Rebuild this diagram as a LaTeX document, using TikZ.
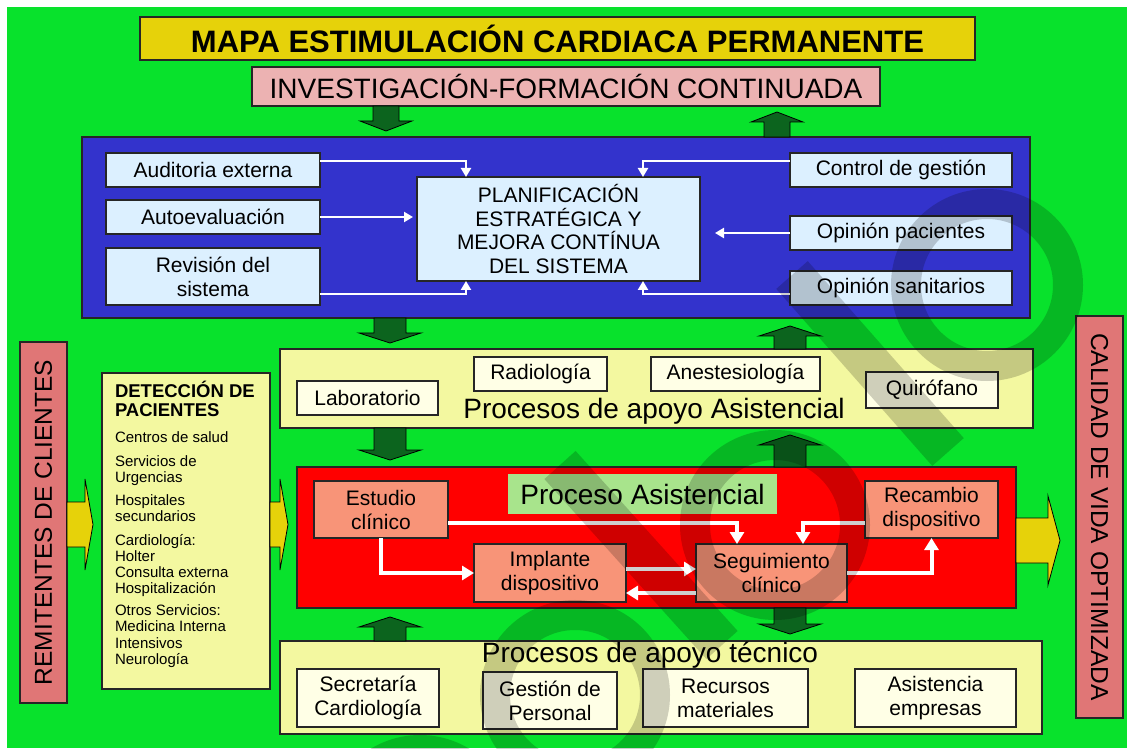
\documentclass[tikz,border=0pt]{standalone}
\usepackage{fontspec}
\setmainfont{Liberation Sans}
\usetikzlibrary{arrows.meta,positioning,calc}

\definecolor{bggreen}{RGB}{8,226,44}
\definecolor{titleyellow}{RGB}{230,210,10}
\definecolor{investpink}{RGB}{236,178,178}
\definecolor{sysblue}{RGB}{51,51,204}
\definecolor{paleblue}{RGB}{220,240,255}
\definecolor{arrowgreen}{RGB}{12,100,30}
\definecolor{paleyellow}{RGB}{243,248,160}
\definecolor{cream}{RGB}{255,255,230}
\definecolor{salmon}{RGB}{248,148,120}
\definecolor{labelgreen}{RGB}{168,228,140}
\definecolor{sidepink}{RGB}{224,118,118}

\newcommand{\boxfont}{\fontsize{21}{24}\selectfont}
\newcommand{\lblfont}{\fontsize{28}{30}\selectfont}

\tikzset{
  garrow/.style={fill=arrowgreen,draw=black,line width=0.8pt},
  yarrow/.style={fill=titleyellow,draw=black,line width=0.8pt},
  pics/gdown/.style args={#1/#2/#3}{code={
    \draw[garrow] (-#2,0) -- (-#2,#1-10) -- (-#3,#1-10) -- (0,#1) -- (#3,#1-10) -- (#2,#1-10) -- (#2,0) -- cycle;}},
  pics/gup/.style args={#1/#2/#3}{code={
    \draw[garrow] (-#2,0) -- (-#2,10-#1) -- (-#3,10-#1) -- (0,-#1) -- (#3,10-#1) -- (#2,10-#1) -- (#2,0) -- cycle;}},
  pics/yarr/.style args={#1/#2/#3/#4}{code={
    \draw[yarrow] (0,-#2) -- (#1-#4,-#2) -- (#1-#4,-#3) -- (#1,0) -- (#1-#4,#3) -- (#1-#4,#2) -- (0,#2) -- cycle;}}
}

\begin{document}
\begin{tikzpicture}[x=1pt,y=-1pt,
  every node/.style={inner sep=0pt,outer sep=0pt},
  box/.style={draw=black!85,line width=1.1pt,align=center},
  sysitem/.style={box,fill=paleblue,font=\boxfont},
  supitem/.style={box,fill=cream,font=\boxfont},
  careitem/.style={box,fill=salmon,font=\boxfont},
  sidebar/.style={box,fill=sidepink,font=\fontsize{24.5}{26}\selectfont},
  detitem/.style={anchor=base west,font=\fontsize{15}{16}\selectfont},
  warrow/.style={draw=white,line width=2.6pt,-{Triangle[length=9pt,width=10pt]}},
  rarrow/.style={draw=white,line width=4pt,-{Triangle[length=12pt,width=14pt]}},
  wmark/.style={draw=black,line width=30pt}]

\useasboundingbox (0,0) rectangle (1133,751);
\fill[white] (0,0) rectangle (1133,751);
\fill[bggreen] (7,7) rectangle (1127,748);

% title and research band
\node[box,fill=titleyellow,minimum width=835pt,minimum height=43pt,font=\fontsize{31}{34}\selectfont\bfseries] (title) at (557.5,38.5) {MAPA ESTIMULACIÓN CARDIACA PERMANENTE};
\node[box,fill=investpink,minimum width=628pt,minimum height=39pt,font=\fontsize{28}{30}\selectfont] (invest) at (566,86.5) {INVESTIGACIÓN-FORMACIÓN CONTINUADA};

% planning system (blue)
\node[box,fill=sysblue,minimum width=948pt,minimum height=181pt] (sistema) at (556,227.5) {};
\node[sysitem,minimum width=214pt,minimum height=34pt] (audit) at (213,170) {Auditoria externa};
\node[sysitem,minimum width=214pt,minimum height=34pt] (autoev) at (213,217) {Autoevaluación};
\node[sysitem,minimum width=214pt,minimum height=57pt] (revision) at (213,276.5) {Revisión del\\sistema};
\node[sysitem,minimum width=283pt,minimum height=104pt,font=\fontsize{21}{23.5}\selectfont] (plan) at (558.5,229) {PLANIFICACIÓN\\ESTRATÉGICA Y\\MEJORA CONTÍNUA\\DEL SISTEMA};
\node[sysitem,minimum width=222pt,minimum height=34pt] (control) at (901,170) {Control de gestión};
\node[sysitem,minimum width=222pt,minimum height=34pt] (pacientes) at (901,233) {Opinión pacientes};
\node[sysitem,minimum width=222pt,minimum height=34pt] (sanitarios) at (901,288) {Opinión sanitarios};

\draw[warrow] ([yshift=9pt]audit.east) -| ([xshift=49pt]plan.north west);
\draw[warrow,shorten >=4pt] (autoev.east) -- (autoev.east -| plan.west);
\draw[warrow] ([yshift=-17.5pt]revision.east) -| ([xshift=49pt]plan.south west);
\draw[warrow] ([yshift=9pt]control.west) -| ([xshift=-57pt]plan.north east);
\draw[warrow,shorten >=15pt] (pacientes.west) -- (pacientes.west -| plan.east);
\draw[warrow] ([yshift=-6pt]sanitarios.west) -| ([xshift=-57pt]plan.south east);

% support processes (care)
\node[box,fill=paleyellow,minimum width=753pt,minimum height=79pt] (apoyoA) at (656.5,388.5) {};
\node[supitem,minimum width=141pt,minimum height=34pt] (lab) at (367.5,398) {Laboratorio};
\node[supitem,minimum width=133pt,minimum height=34pt] (radio) at (540.5,374) {Radiología};
\node[supitem,minimum width=169pt,minimum height=34pt] (anest) at (735.5,374) {Anestesiología};
\node[supitem,minimum width=132pt,minimum height=36pt] (quiro) at (932,390) {Quirófano};
\node[anchor=base,font=\lblfont] (apoyoAlbl) at (654,418) {Procesos de apoyo Asistencial};

% care process (red)
\node[box,fill=red,minimum width=719pt,minimum height=141pt] (asist) at (656.5,537.5) {};
\node[fill=labelgreen,minimum width=269pt,minimum height=40pt,font=\lblfont] (asistlbl) at (642.5,494) {Proceso Asistencial};
\node[careitem,minimum width=134pt,minimum height=57pt] (estudio) at (381,509.5) {Estudio\\clínico};
\node[careitem,minimum width=152pt,minimum height=58pt] (implante) at (550,573) {Implante\\dispositivo};
\node[careitem,minimum width=151pt,minimum height=58pt] (seguim) at (771.5,573) {Seguimiento\\clínico};
\node[careitem,minimum width=133pt,minimum height=57pt] (recambio) at (931.5,509.5) {Recambio\\dispositivo};

\draw[rarrow] ([yshift=-13.5pt]estudio.east) -| ([xshift=41pt]seguim.north west);
\draw[rarrow] (estudio.south) |- (implante.west);
\draw[rarrow] ([yshift=4pt]implante.east) -- ([yshift=4pt]seguim.west);
\draw[rarrow] ([yshift=-20pt]seguim.west) -- ([yshift=-20pt]implante.east);
\draw[rarrow] (seguim.east) -| (recambio.south);
\draw[rarrow] ([yshift=-13.5pt]recambio.west) -| ([xshift=-44pt]seguim.north east);

% technical support
\node[box,fill=paleyellow,minimum width=762pt,minimum height=93pt] (apoyoT) at (661,687.5) {};
\node[anchor=base,font=\lblfont] (apoyoTlbl) at (650,662) {Procesos de apoyo técnico};
\node[supitem,minimum width=142pt,minimum height=58pt] (secret) at (368,698) {Secretaría\\Cardiología};
\node[supitem,minimum width=134pt,minimum height=57pt] (gestion) at (550,700.5) {Gestión de\\Personal};
\node[supitem,minimum width=165pt,minimum height=58pt] (recursos) at (725.5,698) {Recursos\\materiales};
\node[supitem,minimum width=161pt,minimum height=58pt] (empresas) at (935.5,698) {Asistencia\\empresas};

% patient detection column
\node[box,fill=paleyellow,minimum width=168pt,minimum height=316pt] (deteccion) at (186,531) {};
\node[anchor=base west,font=\fontsize{18.5}{20}\selectfont\bfseries] (dett1) at (115,397) {DETECCIÓN DE};
\node[anchor=base west,font=\fontsize{18.5}{20}\selectfont\bfseries] (dett2) at (115,417) {PACIENTES};
\foreach \yy/\txt [count=\i] in {442.5/Centros de salud, 466.5/Servicios de, 482.5/Urgencias,
    505.5/Hospitales, 521.5/secundarios, 545.5/Cardiología:, 561.5/Holter,
    577.5/Consulta externa, 593.5/Hospitalización, 615.5/Otros Servicios:,
    631.5/Medicina Interna, 648/Intensivos, 664.5/Neurología}
  \node[detitem] (det\i) at (115,\yy) {\txt};

% side bars
\node[sidebar,rotate=90,minimum width=361pt,minimum height=47pt] (remit) at (43.5,522.5) {REMITENTES DE CLIENTES};
\node[sidebar,rotate=-90,minimum width=402pt,minimum height=47pt] (calidad) at (1099.5,517) {CALIDAD DE VIDA OPTIMIZADA};

% block arrows
\coordinate (colA) at (386,0);
\coordinate (colB) at (777,0);
\coordinate (colC) at (390,0);
\coordinate (colD) at (790,0);
\coordinate (rowL) at (0,524.5);
\coordinate (rowR) at (0,540.5);
\pic at (invest.south -| colA) {gdown={25/13/26}};
\pic at (sistema.north -| colB) {gup={25/13/26}};
\pic at (sistema.south -| colC) {gdown={25/16/31}};
\pic at (apoyoA.north -| colD) {gup={23/16/31}};
\pic at (apoyoA.south -| colC) {gdown={32/16/31}};
\pic at (asist.north -| colD) {gup={32/16/31}};
\pic at (apoyoT.north -| colC) {gup={24/16/31}};
\pic at (asist.south -| colD) {gdown={26/16/31}};
\pic at (remit.south |- rowL) {yarr={26/22.5/45.5/8}};
\pic at (deteccion.east |- rowL) {yarr={18/22.5/45.5/8}};
\pic at (asist.east |- rowR) {yarr={44/22.5/44.5/12}};

% watermark
\begin{scope}[transparency group,opacity=0.19]
  \clip (7,7) rectangle (1127,748);
  \draw[wmark] (987,285) circle[radius=81];
  \draw[wmark] (775,525) circle[radius=80];
  \draw[wmark] (575,695) circle[radius=80];
  \draw[wmark] (420,830) circle[radius=80];
  \draw[wmark,line width=42pt] (792,275) -- (948,452);
  \draw[wmark,line width=42pt] (560,465) -- (722,645);
\end{scope}
\end{tikzpicture}
\end{document}
